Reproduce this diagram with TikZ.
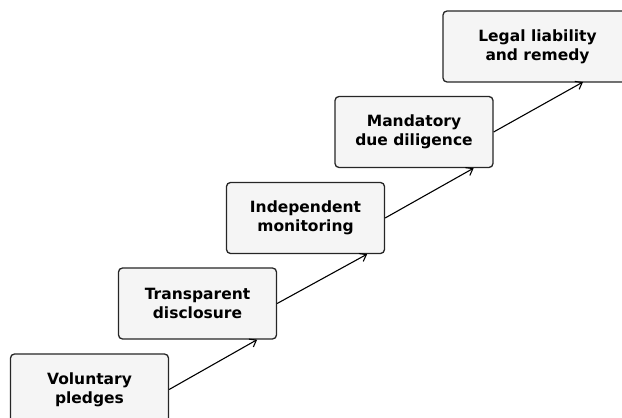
\documentclass[tikz,border=0pt]{standalone}
\usepackage{fontspec}
\setmainfont{DejaVu Sans}
\usetikzlibrary{arrows.meta}
\begin{document}
\begin{tikzpicture}[x=1pt,y=1pt,
  stepbox/.style={draw=black!85, line width=1.3pt, fill=black!4, rounded corners=4pt,
    minimum height=71pt, align=center, font=\fontsize{15.5}{19}\selectfont\bfseries, inner sep=0pt},
  conn/.style={line width=1.1pt, -{Straight Barb[length=6pt,width=9pt,line width=1.1pt]}}]
\useasboundingbox (0,0) rectangle (622,418);
\node[stepbox, minimum width=158pt] (b1) at (89.5,28.5) {Voluntary\\pledges};
\node[stepbox, minimum width=158pt] (b2) at (197.5,114.5) {Transparent\\disclosure};
\node[stepbox, minimum width=158pt] (b3) at (305.5,200) {Independent\\monitoring};
\node[stepbox, minimum width=158pt] (b4) at (414,286) {Mandatory\\due diligence};
\node[stepbox, minimum width=189pt] (b5) at (537.5,371.5) {Legal liability\\and remedy};
\coordinate (t2) at ([xshift=-20pt]b2.south east);
\coordinate (t3) at ([xshift=-18pt]b3.south east);
\coordinate (t4) at ([xshift=-20pt]b4.south east);
\coordinate (t5) at (583,336);
\draw[conn] (b1.east) -- (t2);
\draw[conn] (b2.east) -- (t3);
\draw[conn] (b3.east) -- (t4);
\draw[conn] (b4.east) -- (t5);
\end{tikzpicture}
\end{document}
